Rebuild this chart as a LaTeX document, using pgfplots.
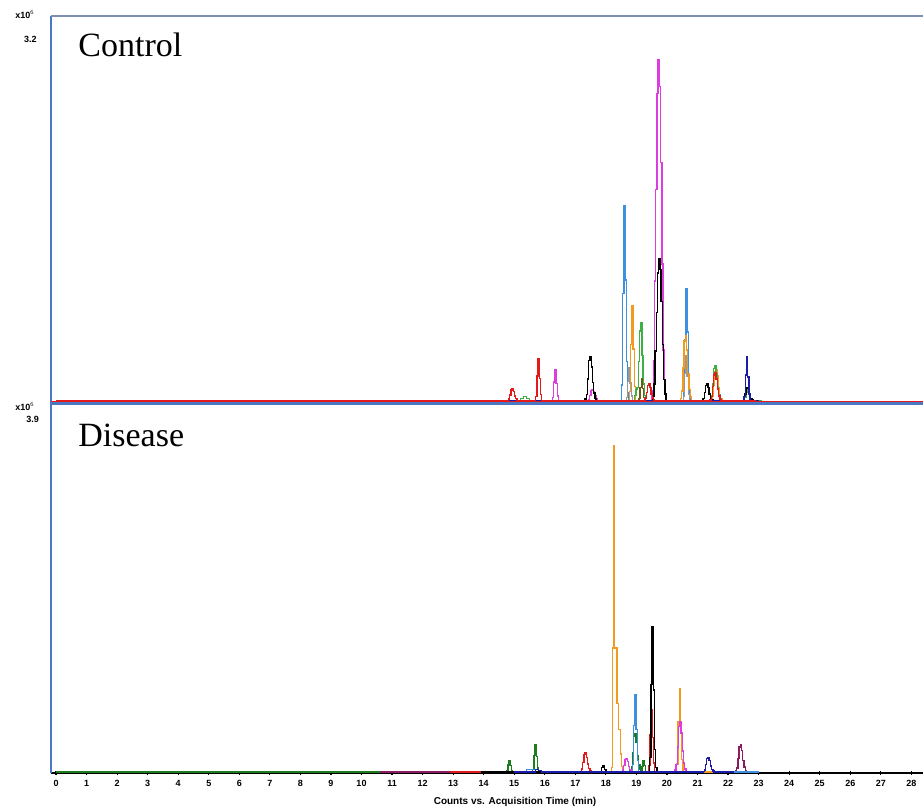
\documentclass[border=0pt]{standalone}
\usepackage{fontspec}
\setmainfont{Liberation Serif}
\setsansfont{Liberation Sans}
\usepackage{pgfplots}
\pgfplotsset{compat=1.18}
\definecolor{axblue}{HTML}{4A78C2}
\definecolor{axgray}{HTML}{7C8FB0}
\definecolor{cred}{HTML}{E3191C}
\definecolor{cmag}{HTML}{DE3CDE}
\definecolor{cblue}{HTML}{3D8FE0}
\definecolor{corange}{HTML}{F29A1D}
\definecolor{cgray}{HTML}{9A9A9A}
\definecolor{cgreen}{HTML}{3CB043}
\definecolor{cdgreen}{HTML}{1E7B1E}
\definecolor{cdblue}{HTML}{1C1CAA}
\definecolor{colive}{HTML}{6B5A1A}
\definecolor{cpurple}{HTML}{8B1C62}
\pgfplotsset{
  trace/.style={const plot, no marks, line width=0.7pt},
  every axis/.append style={scale only axis, width=436pt, xmin=-0.164, xmax=28.38,
    /pgf/number format/assume math mode=true,
    yticklabel style={font=\fontsize{4.5}{5}\selectfont\sffamily\bfseries, xshift=-1.5pt},
    ytick style={draw=none}, clip=false},
}
\newcommand{\tinylbl}{\fontsize{4.5}{5}\selectfont\sffamily\bfseries}
\begin{document}
\begin{tikzpicture}
\useasboundingbox (0,0) rectangle (461.5pt,406pt);
% ---------------- Control ----------------
\begin{axis}[at={(25.5pt,204pt)}, anchor=south west, height=194pt,
  ymin=-0.027, ymax=3.404, ytick={3.2}, xtick=\empty,
  axis x line=bottom, axis y line=left,
  x axis line style={axblue, line width=1.5pt, -},
  y axis line style={axblue, line width=0.6pt, -}]
\addplot[trace, cblue] coordinates {(13.5,0) (18.47,0) (18.51,0.14) (18.55,0.95) (18.59,1.73) (18.63,1.07) (18.67,0.35) (18.71,0.07) (18.75,0)
 (20.50,0) (20.54,0.08) (20.58,0.54) (20.62,0.99) (20.66,0.61) (20.70,0.2) (20.74,0.04) (20.78,0) (23.0,0)};
\addplot[trace, cgray] coordinates {(17.0,0) (18.63,0) (18.67,0.029) (18.71,0.17) (18.75,0.29) (18.79,0.16) (18.83,0.044) (18.87,0)
 (20.50,0) (20.54,0.04) (20.58,0.24) (20.62,0.40) (20.66,0.22) (20.70,0.06) (20.74,0) (22.0,0)};
\addplot[trace, corange] coordinates {(13.5,0) (18.73,0) (18.77,0.084) (18.81,0.5) (18.85,0.84) (18.89,0.46) (18.93,0.13) (18.97,0)
 (20.40,0) (20.44,0.023) (20.48,0.087) (20.52,0.29) (20.56,0.53) (20.60,0.58) (20.64,0.45) (20.68,0.24) (20.72,0.1) (20.76,0.035) (20.80,0)
 (21.40,0) (21.44,0.011) (21.48,0.042) (21.52,0.14) (21.56,0.26) (21.60,0.28) (21.64,0.22) (21.68,0.12) (21.72,0.05) (21.76,0.017) (21.80,0) (23.0,0)};
\addplot[trace, cgreen] coordinates {(13.5,0) (15.1,0) (15.2,0.02) (15.3,0.04) (15.4,0.02) (15.5,0)
 (18.90,0) (18.94,0.05) (18.98,0.1) (19.02,0.12) (19.06,0.35) (19.10,0.62) (19.14,0.69) (19.18,0.4) (19.22,0.15) (19.26,0.05) (19.30,0)
 (21.37,0) (21.41,0.012) (21.45,0.047) (21.49,0.155) (21.53,0.285) (21.57,0.31) (21.61,0.24) (21.65,0.13) (21.69,0.056) (21.73,0.019) (21.77,0)
 (22.50,0) (22.54,0.03) (22.58,0.08) (22.62,0.1) (22.66,0.09) (22.70,0.05) (22.74,0.02) (22.80,0) (23.1,0)};
\addplot[trace, colive] coordinates {(18.5,0) (19.04,0) (19.08,0.02) (19.12,0.12) (19.16,0.2) (19.20,0.11) (19.24,0.03) (19.28,0) (19.6,0)};
\addplot[trace, cmag] coordinates {(13.5,0) (16.21,0) (16.25,0.028) (16.29,0.168) (16.33,0.28) (16.37,0.154) (16.41,0.042) (16.45,0)
 (17.35,0) (17.39,0.004) (17.43,0.015) (17.47,0.05) (17.51,0.092) (17.55,0.1) (17.59,0.078) (17.63,0.042) (17.67,0.018) (17.71,0.006) (17.75,0)
 (19.47,0) (19.51,0.09) (19.55,0.36) (19.59,1.06) (19.63,1.87) (19.67,2.72) (19.71,3.02) (19.75,2.78) (19.79,2.11) (19.83,1.21) (19.87,0.45) (19.91,0.15) (19.95,0) (23.0,0)};
\addplot[trace, black] coordinates {(13.5,0) (17.28,0) (17.32,0.016) (17.36,0.059) (17.40,0.195) (17.44,0.36) (17.48,0.39) (17.52,0.30) (17.56,0.164) (17.60,0.07) (17.64,0.023) (17.68,0)
 (19.49,0) (19.53,0.038) (19.57,0.15) (19.61,0.44) (19.65,0.78) (19.69,1.13) (19.73,1.26) (19.77,1.16) (19.81,0.88) (19.85,0.5) (19.89,0.19) (19.93,0.063) (19.97,0)
 (21.10,0) (21.14,0.006) (21.18,0.023) (21.22,0.075) (21.26,0.138) (21.30,0.15) (21.34,0.117) (21.38,0.063) (21.42,0.027) (21.46,0.009) (21.50,0)
 (22.42,0) (22.46,0.005) (22.50,0.018) (22.54,0.06) (22.58,0.11) (22.62,0.12) (22.66,0.094) (22.70,0.05) (22.74,0.022) (22.78,0.007) (22.82,0) (23.0,0)};
\addplot[trace, cdblue] coordinates {(13.5,0) (22.48,0) (22.52,0.04) (22.56,0.23) (22.60,0.39) (22.64,0.21) (22.68,0.06) (22.72,0) (23.0,0)};
\addplot[trace, cred] coordinates {(0,0) (14.73,0) (14.77,0.004) (14.81,0.016) (14.85,0.053) (14.89,0.097) (14.93,0.105) (14.97,0.082) (15.01,0.044) (15.05,0.019) (15.09,0.006) (15.13,0)
 (15.66,0) (15.70,0.037) (15.74,0.22) (15.78,0.37) (15.82,0.2) (15.86,0.055) (15.90,0)
 (19.20,0) (19.24,0.006) (19.28,0.023) (19.32,0.075) (19.36,0.138) (19.40,0.15) (19.44,0.117) (19.48,0.063) (19.52,0.027) (19.56,0.009) (19.60,0)
 (21.37,0) (21.41,0.01) (21.45,0.038) (21.49,0.125) (21.53,0.23) (21.57,0.25) (21.61,0.195) (21.65,0.105) (21.69,0.045) (21.73,0.015) (21.77,0) (22.9,0)};
\draw[axgray, line width=0.9pt] (rel axis cs:0,1) -- (rel axis cs:1,1);
\node[anchor=base west, inner sep=0pt, font=\fontsize{17}{20}\selectfont] at ([shift={(13.5pt,-20.5pt)}]rel axis cs:0,1) {Control};
\node[anchor=center, inner sep=0pt, font=\tinylbl] at ([shift={(-13pt,1pt)}]rel axis cs:0,1) {x10$^{\mathrm{6}}$};
\end{axis}
% ---------------- Disease ----------------
\begin{axis}[at={(25.5pt,19.5pt)}, anchor=south west, height=184.5pt,
  ymin=-0.01, ymax=4.04, ytick={3.9},
  yticklabel style={yshift=-1.5pt},
  xtick={0,1,...,28}, tick align=outside, xtick pos=bottom,
  major tick length=2pt, xtick style={black, line width=0.6pt},
  xticklabel style={font=\tinylbl, yshift=1pt},
  axis x line=bottom, axis y line=left,
  x axis line style={black, line width=1pt, -},
  y axis line style={axblue, line width=0.6pt, -}]
\addplot[trace, cdgreen] coordinates {(0,0) (14.71,0) (14.75,0.013) (14.79,0.078) (14.83,0.13) (14.87,0.07) (14.91,0.02) (14.95,0)
 (15.56,0) (15.60,0.03) (15.64,0.18) (15.68,0.30) (15.72,0.17) (15.76,0.045) (15.80,0)
 (18.75,0) (18.79,0.017) (18.83,0.063) (18.87,0.21) (18.91,0.39) (18.95,0.42) (18.99,0.33) (19.03,0.18) (19.07,0.076) (19.11,0.025) (19.15,0.02) (19.18,0.06) (19.22,0.13) (19.26,0.07) (19.30,0) (23.0,0)};
\addplot[trace, cpurple] coordinates {(10.6,0) (22.20,0) (22.24,0.012) (22.28,0.045) (22.32,0.15) (22.36,0.276) (22.40,0.30) (22.44,0.234) (22.48,0.126) (22.52,0.054) (22.56,0.018) (22.60,0) (22.9,0)};
\addplot[trace, cred] coordinates {(12.9,0) (17.12,0) (17.16,0.008) (17.20,0.032) (17.24,0.105) (17.28,0.19) (17.32,0.21) (17.36,0.16) (17.40,0.088) (17.44,0.038) (17.48,0.013) (17.52,0)
 (19.36,0) (19.40,0.07) (19.44,0.41) (19.48,0.69) (19.52,0.38) (19.56,0.1) (19.60,0) (21.0,0)};
\addplot[trace, cblue] coordinates {(14.8,0) (15.3,0) (15.4,0.03) (15.6,0.03) (15.7,0)
 (18.83,0) (18.87,0.085) (18.91,0.51) (18.95,0.85) (18.99,0.47) (19.03,0.13) (19.07,0) (23.0,0)};
\addplot[trace, corange] coordinates {(14.0,0) (18.10,0) (18.18,0.05) (18.21,1.36) (18.25,3.58) (18.29,1.36) (18.36,0.75) (18.41,0.47) (18.47,0.2) (18.52,0.06) (18.56,0)
 (20.28,0) (20.32,0.09) (20.36,0.55) (20.40,0.91) (20.44,0.5) (20.48,0.14) (20.52,0) (22.0,0)};
\addplot[trace, cmag] coordinates {(14.5,0) (18.46,0) (18.50,0.006) (18.54,0.023) (18.58,0.075) (18.62,0.138) (18.66,0.15) (18.70,0.117) (18.74,0.063) (18.78,0.027) (18.82,0.009) (18.86,0)
 (20.22,0) (20.26,0.022) (20.30,0.083) (20.34,0.275) (20.38,0.5) (20.42,0.55) (20.46,0.43) (20.50,0.23) (20.54,0.1) (20.58,0.033) (20.62,0) (21.0,0)};
\addplot[trace, black] coordinates {(13.9,0) (17.80,0) (17.85,0.05) (17.90,0.07) (17.95,0.03) (18.0,0)
 (19.39,0) (19.43,0.16) (19.47,0.96) (19.51,1.60) (19.55,0.9) (19.59,0.25) (19.63,0.05) (19.67,0) (20.0,0)};
\addplot[trace, cdblue] coordinates {(15.0,0) (15.6,0) (15.7,0.03) (15.8,0.02) (15.9,0)
 (21.14,0) (21.18,0.006) (21.22,0.024) (21.26,0.08) (21.30,0.147) (21.34,0.16) (21.38,0.125) (21.42,0.067) (21.46,0.029) (21.50,0.01) (21.54,0) (22.2,0)};
\draw[axblue, line width=1.5pt] (rel axis cs:0,1) -- (rel axis cs:1,1);
\draw[cred, line width=0.7pt] ([yshift=1.2pt]rel axis cs:0,1) -- ([yshift=1.2pt]rel axis cs:1,1);
\node[anchor=base west, inner sep=0pt, font=\fontsize{17}{20}\selectfont] at ([shift={(13.5pt,-21.5pt)}]rel axis cs:0,1) {Disease};
\node[anchor=center, inner sep=0pt, font=\tinylbl] at ([shift={(-13pt,-1.2pt)}]rel axis cs:0,1) {x10$^{\mathrm{6}}$};
\end{axis}
\node[anchor=center, inner sep=0pt, font=\fontsize{5}{6}\selectfont\sffamily\bfseries] at (257.5pt,5pt) {Counts vs. Acquisition Time (min)};
\end{tikzpicture}
\end{document}
